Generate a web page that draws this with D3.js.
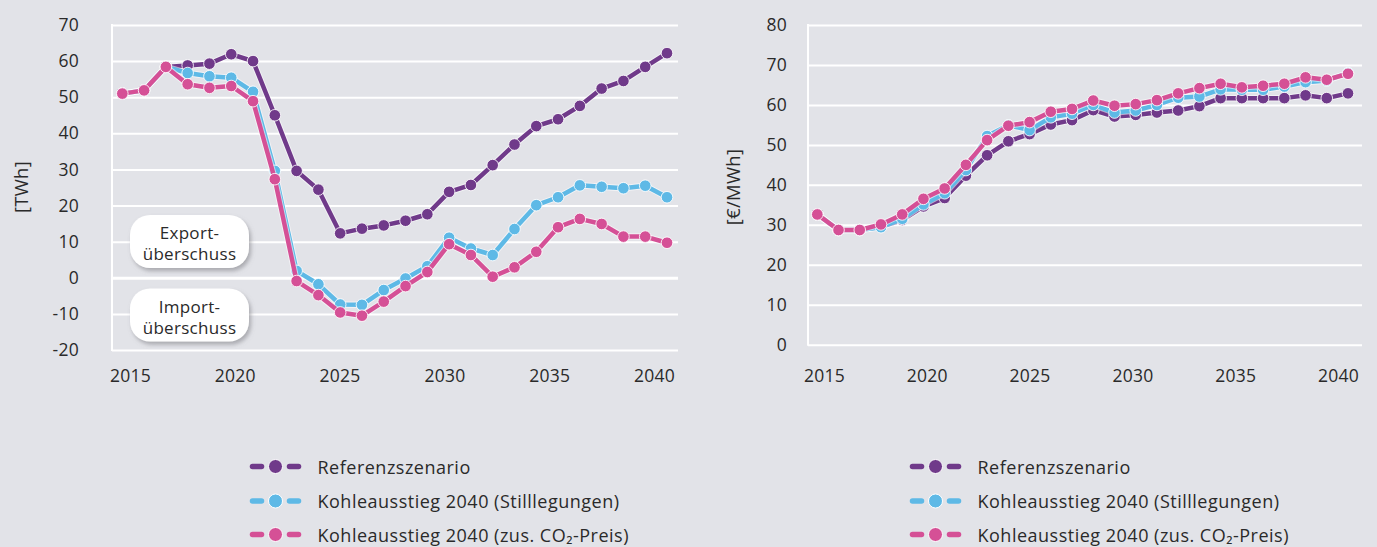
<!DOCTYPE html>
<html>
<head>
<meta charset="utf-8">
<script src="https://cdn.jsdelivr.net/npm/d3@7/dist/d3.min.js"></script>
<style>
  html, body { margin: 0; padding: 0; background: #e2e3e8; }
  svg { display: block; }
  text { font-family: "Open Sans", "Noto Sans", sans-serif; fill: #2a2a2a; }
</style>
</head>
<body>
<svg id="chart" width="1377" height="547"></svg>
<script>
// Years shown on the category axis
const years = d3.range(2015, 2041);
const yearTicks = [2015, 2020, 2025, 2030, 2035, 2040];

// Net exchange balance [TWh]
const tradeRef   = [51, 51.9, 58.4, 58.8, 59.3, 61.9, 60, 45, 29.6, 24.4, 12.3, 13.6, 14.5, 15.8, 17.6, 23.8, 25.7, 31.2, 36.9, 42, 43.9, 47.6, 52.4, 54.5, 58.4, 62.2];
const tradeStill = [51, 51.9, 58.4, 56.7, 55.8, 55.4, 51.5, 29.6, 1.9, -1.8, -7.4, -7.5, -3.4, -0.2, 3.2, 11.1, 8.1, 6.3, 13.5, 20.1, 22.3, 25.6, 25.2, 24.8, 25.5, 22.3];
const tradeCO2   = [51, 51.9, 58.4, 53.6, 52.6, 53.1, 48.9, 27.3, -0.9, -4.8, -9.6, -10.5, -6.6, -2.3, 1.6, 9.3, 6.3, 0.3, 2.9, 7.2, 14, 16.3, 14.9, 11.4, 11.4, 9.7];
const tradeTicks = [-20, -10, 0, 10, 20, 30, 40, 50, 60, 70];

// Wholesale price [€/MWh]
const priceRef   = [32.6, 28.7, 28.7, 29.5, 31.2, 34.6, 36.7, 42.3, 47.4, 50.9, 52.7, 55.1, 56.2, 58.7, 57.1, 57.5, 58.1, 58.6, 59.7, 61.7, 61.7, 61.7, 61.7, 62.4, 61.7, 62.9];
const priceStill = [32.6, 28.7, 28.7, 29.4, 31.5, 35.1, 37.9, 43.7, 52.2, 54.9, 53.7, 56.9, 57.8, 60.0, 58.1, 58.6, 60.0, 61.8, 62.1, 63.9, 63.8, 63.8, 64.6, 65.7, 66.1, 68.0];
const priceCO2   = [32.6, 28.7, 28.7, 30.1, 32.6, 36.5, 39.1, 45.0, 51.2, 54.8, 55.7, 58.3, 59.0, 61.1, 59.8, 60.2, 61.2, 62.9, 64.2, 65.3, 64.4, 64.8, 65.3, 66.9, 66.3, 67.8];
const priceTicks = [0, 10, 20, 30, 40, 50, 60, 70, 80];

const seriesNames  = ["Referenzszenario", "Kohleausstieg 2040 (Stilllegungen)", "Kohleausstieg 2040 (zus. CO₂-Preis)"];
const seriesColors = ["#703a8a", "#5eb9e6", "#d55096"];

// integer labels with a plain hyphen as minus sign
const intLabel = d => String(Math.round(d));

const svg = d3.select("#chart");

const defs = svg.append("defs");
const shadow = defs.append("filter").attr("id", "boxShadow")
  .attr("x", "-20%").attr("y", "-20%").attr("width", "140%").attr("height", "150%");
shadow.append("feDropShadow").attr("dx", 2).attr("dy", 3).attr("stdDeviation", 2)
  .attr("flood-color", "#7a7a80").attr("flood-opacity", 0.55);

function panel(cfg) {
  const g = svg.append("g");
  const x = d3.scaleLinear().domain([2015, 2040]).range(cfg.pointRange);
  const xLabels = d3.scaleLinear().domain([2015, 2040]).range(cfg.labelRange);
  const y = d3.scaleLinear().domain(cfg.yDomain).range(cfg.yRange);

  // horizontal gridlines + value labels
  const yAxis = g.append("g")
    .attr("transform", `translate(${cfg.axisX},0)`)
    .call(d3.axisLeft(y).tickValues(cfg.ticks).tickSize(-(cfg.plotRight - cfg.axisX))
      .tickPadding(cfg.labelPad).tickFormat(intLabel));
  yAxis.select(".domain").remove();
  yAxis.selectAll(".tick line").attr("stroke", "#ffffff")
    .attr("stroke-width", d => d === 0 && cfg.boldZero ? 3 : 2);
  yAxis.selectAll(".tick text").attr("font-size", 17.5).attr("fill", "#2a2a2a")
    .attr("letter-spacing", 0.25)
    .style("font-family", '"Open Sans", sans-serif');

  // vertical axis line
  g.append("line")
    .attr("x1", cfg.axisX).attr("x2", cfg.axisX)
    .attr("y1", y(cfg.yDomain[1]) - 1).attr("y2", y(cfg.yDomain[0]) + 1)
    .attr("stroke", "#ffffff").attr("stroke-width", 2);

  // year labels
  const xAxis = g.append("g")
    .attr("transform", `translate(0,${cfg.xLabelY})`)
    .call(d3.axisBottom(xLabels).tickValues(yearTicks).tickSize(0).tickPadding(0)
      .tickFormat(intLabel));
  xAxis.select(".domain").remove();
  xAxis.selectAll(".tick text").attr("font-size", 17.5).attr("fill", "#2a2a2a")
    .attr("letter-spacing", 0.25)
    .style("font-family", '"Open Sans", sans-serif');

  // unit label
  g.append("text")
    .attr("transform", `translate(${cfg.titleX},${cfg.titleY}) rotate(-90)`)
    .attr("text-anchor", "middle").attr("dominant-baseline", "central")
    .attr("font-size", 18.5).attr("letter-spacing", 0.3).text(cfg.title);

  const line = d3.line().x((d, i) => x(years[i])).y(d => y(d));

  cfg.series.forEach((vals, k) => {
    const s = g.append("g");
    s.append("path").datum(vals).attr("d", line)
      .attr("fill", "none").attr("stroke", "#ffffff").attr("stroke-opacity", 0.55)
      .attr("stroke-width", 6.5).attr("stroke-linejoin", "round");
    s.append("path").datum(vals).attr("d", line)
      .attr("fill", "none").attr("stroke", seriesColors[k])
      .attr("stroke-width", 4.5).attr("stroke-linejoin", "round");
    s.selectAll("circle").data(vals).join("circle")
      .attr("cx", (d, i) => x(years[i])).attr("cy", d => y(d))
      .attr("r", 5.8).attr("fill", seriesColors[k])
      .attr("stroke", "#ffffff").attr("stroke-width", 1).attr("stroke-opacity", 0.85);
  });

  // legend
  const lg = g.append("g");
  seriesNames.forEach((name, k) => {
    const ry = cfg.legendY[k];
    const row = lg.append("g").attr("transform", `translate(${cfg.legendX},${ry})`);
    row.append("line").attr("x1", 2.5).attr("x2", 11.5).attr("y1", 0).attr("y2", 0)
      .attr("stroke", seriesColors[k]).attr("stroke-width", 5.5).attr("stroke-linecap", "round");
    row.append("line").attr("x1", 39.5).attr("x2", 48.5).attr("y1", 0).attr("y2", 0)
      .attr("stroke", seriesColors[k]).attr("stroke-width", 5.5).attr("stroke-linecap", "round");
    row.append("circle").attr("cx", 25.5).attr("cy", 0).attr("r", 7)
      .attr("fill", seriesColors[k]).attr("stroke", "#ffffff").attr("stroke-width", 1);
    row.append("text").attr("x", 67.5).attr("y", 0).attr("dominant-baseline", "central")
      .attr("font-size", 18).attr("letter-spacing", 0.5).text(name);
  });

  return { g, x, y };
}

const left = panel({
  pointRange: [122.3, 667], labelRange: [130, 654],
  yDomain: [-20, 70], yRange: [350, 25], ticks: tradeTicks,
  axisX: 112, plotRight: 678, labelPad: 33, boldZero: true,
  xLabelY: 370, title: "[TWh]", titleX: 20, titleY: 187,
  series: [tradeRef, tradeStill, tradeCO2],
  legendX: 250, legendY: [466.5, 501, 534.5]
});

const right = panel({
  pointRange: [817.3, 1348], labelRange: [824, 1338],
  yDomain: [0, 80], yRange: [344.7, 25], ticks: priceTicks,
  axisX: 808, plotRight: 1362, labelPad: 21, boldZero: false,
  xLabelY: 370, title: "[€/MWh]", titleX: 732, titleY: 187,
  series: [priceRef, priceStill, priceCO2],
  legendX: 910, legendY: [466.5, 501, 534.5]
});

// balance annotations in the trade panel
const notes = [
  { lines: ["Export-", "überschuss"], top: 215 },
  { lines: ["Import-", "überschuss"], top: 288.5 }
];
const ng = left.g.append("g");
notes.forEach(n => {
  const b = ng.append("g").attr("transform", `translate(130,${n.top})`);
  b.append("rect").attr("width", 119).attr("height", 53).attr("rx", 20).attr("ry", 20)
    .attr("fill", "#ffffff").attr("filter", "url(#boxShadow)");
  n.lines.forEach((t, i) => {
    b.append("text").attr("x", 59.5).attr("y", 17.5 + i * 21)
      .attr("text-anchor", "middle").attr("dominant-baseline", "central")
      .attr("font-size", 17).attr("letter-spacing", 0.3).text(t);
  });
});
</script>
</body>
</html>
